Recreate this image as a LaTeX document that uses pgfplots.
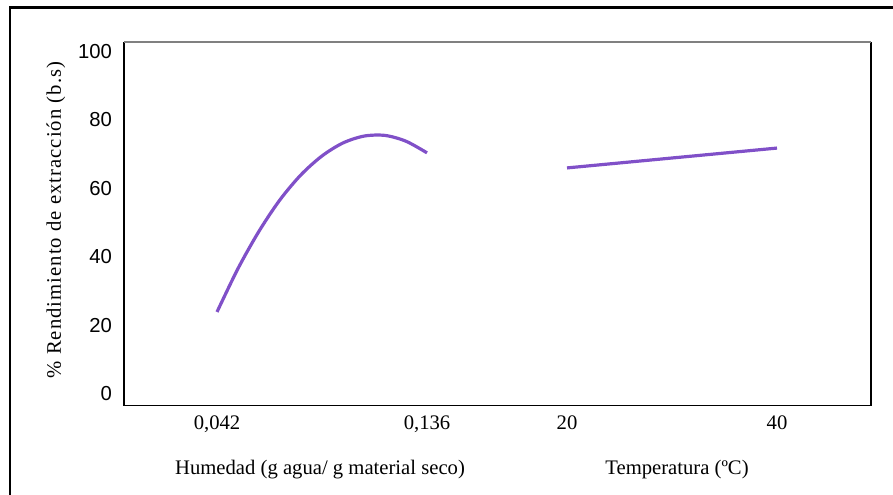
\documentclass[border=0pt]{standalone}
\usepackage{fontspec}
\setmainfont{Liberation Serif}
\newfontfamily\arial{Liberation Sans}
\usepackage{pgfplots}
\pgfplotsset{compat=1.18}

\definecolor{curva}{RGB}{128,80,200}

% curva de humedad (0,042 -> 0 ; 0,136 -> 1)
\pgfplotstableread{
x    y
0.00 23.9
0.10 36.6
0.20 47.5
0.30 56.7
0.40 64.0
0.50 69.5
0.60 73.3
0.70 75.3
0.80 75.5
0.90 73.8
1.00 70.4
}\humedad
% temperatura (20 -> 1.6667 ; 40 -> 2.6667)
\pgfplotstableread{
x      y
1.6667 66.0
2.1667 68.9
2.6667 71.8
}\temperatura

\begin{document}
\begin{tikzpicture}
\useasboundingbox (0,0) rectangle (669.75pt,-371.25pt);
% marco exterior
\draw[line width=1.6pt] (7.7pt,-700pt) -- (7.7pt,-5.6pt) -- (700pt,-5.6pt);

\begin{axis}[name=ax,
  at={(93pt,-304.3pt)}, anchor=south west,
  scale only axis, width=560.25pt, height=272.8pt,
  xmin=-0.4429, xmax=3.1143, ymin=-3.5, ymax=102.8,
  axis line style={draw=none},
  major tick length=0pt,
  xtick={0,1,1.6667,2.6667},
  xticklabels={{0,042},{0,136},20,40},
  ytick={0,20,40,60,80,100},
  /pgf/number format/assume math mode=true,
  xticklabel style={font=\fontsize{15.5}{18}\selectfont, yshift=-4pt},
  yticklabel style={font=\arial\fontsize{15.2}{18}\selectfont, xshift=-5.5pt},
  clip=false,
]
\addplot[curva, line width=2.4pt, smooth] table {\humedad};
\addplot[curva, line width=2.4pt] table {\temperatura};
\end{axis}
\draw[black, line width=0.9pt] (ax.north west) -- (ax.south west) -- (ax.south east) -- (ax.north east);
\draw[gray, line width=0.9pt] (ax.north west) -- (ax.north east);

\node[font=\fontsize{15.5}{18}\selectfont] at (240pt,-352.5pt) {Humedad (g agua/ g material seco)};
\node[font=\fontsize{15.5}{18}\selectfont] at (507.75pt,-352.5pt) {Temperatura (ºC)};
\node[rotate=90, font=\fontsize{15.5}{18}\selectfont\addfontfeatures{LetterSpace=5}] at (42pt,-165pt) {\% Rendimiento de extracción (b.s)};
\end{tikzpicture}
\end{document}
